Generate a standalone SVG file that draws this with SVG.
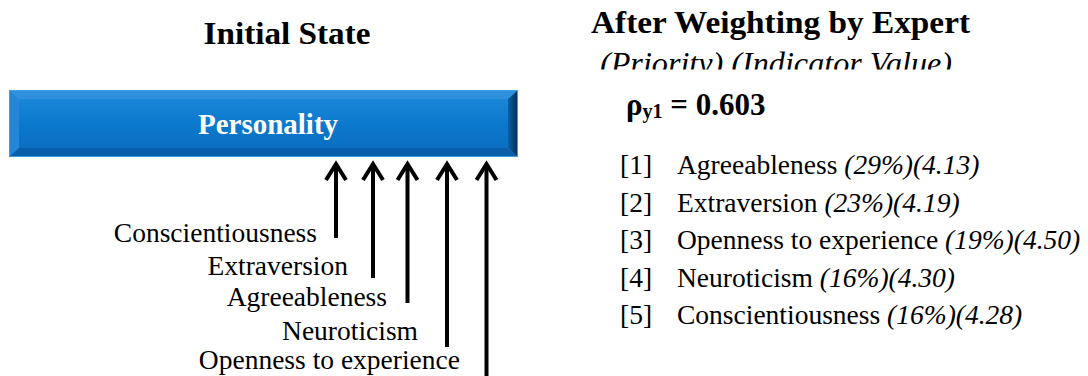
<svg xmlns="http://www.w3.org/2000/svg" width="1088" height="376" viewBox="0 0 1088 376">
  <style>
    .head { font-family: "Liberation Serif", "Times New Roman", serif; font-weight: bold; font-size: 32px; fill: #000; }
    .sub { font-family: "Liberation Serif", "Times New Roman", serif; font-style: italic; font-size: 31px; fill: #000; }
    .lbl { font-family: "Liberation Serif", "Times New Roman", serif; font-size: 27.5px; fill: #000; }
    .it { font-style: italic; }
    .rho { font-family: "Liberation Serif", "Times New Roman", serif; font-weight: bold; font-size: 31px; fill: #000; }
    .box-text { font-family: "Liberation Serif", "Times New Roman", serif; font-weight: bold; font-size: 29px; fill: #ffffff; }
    .shaft { stroke: #000; stroke-width: 4; fill: none; }
    .head-arrow { stroke: #000; stroke-width: 4; fill: none; stroke-linejoin: miter; stroke-linecap: butt; }
  </style>
  <defs>
    <linearGradient id="faceGrad" x1="0" y1="0" x2="0" y2="1">
      <stop offset="0" stop-color="#1a86d8"/>
      <stop offset="0.5" stop-color="#0b79cd"/>
      <stop offset="1" stop-color="#0a6fc2"/>
    </linearGradient>
    <linearGradient id="rightGrad" x1="0" y1="0" x2="1" y2="0">
      <stop offset="0" stop-color="#0a5fa8"/>
      <stop offset="1" stop-color="#05305e"/>
    </linearGradient>
    <clipPath id="subClip">
      <rect x="560" y="40" width="420" height="29.5"/>
    </clipPath>
  </defs>

  <!-- column headings -->
  <text class="head" x="287" y="44" text-anchor="middle" textLength="167" lengthAdjust="spacingAndGlyphs">Initial State</text>
  <text class="head" x="780.5" y="33" text-anchor="middle" textLength="379" lengthAdjust="spacingAndGlyphs">After Weighting by Expert</text>
  <g clip-path="url(#subClip)">
    <text class="sub" x="776" y="74" text-anchor="middle" textLength="352" lengthAdjust="spacingAndGlyphs">(Priority) (Indicator Value)</text>
  </g>

  <!-- bevelled construct bar -->
  <g id="personality">
    <rect x="9" y="90" width="509" height="67" fill="#3f9be2"/>
    <polygon points="10,91 517,91 508,99 19,99" fill="#2f91dd"/>
    <polygon points="10,91 19,99 19,148 10,156" fill="#2386d6"/>
    <polygon points="10,156 19,148 508,148 517,156" fill="#0a5ea9"/>
    <polygon points="517,91 508,99 508,148 517,156" fill="url(#rightGrad)"/>
    <rect x="19" y="99" width="489" height="49" fill="url(#faceGrad)"/>
    <text class="box-text" x="268" y="134" text-anchor="middle">Personality</text>
  </g>

  <!-- indicator labels -->
  <g id="indicators">
    <text class="lbl" x="317" y="242" text-anchor="end">Conscientiousness</text>
    <text class="lbl" x="348" y="275" text-anchor="end">Extraversion</text>
    <text class="lbl" x="387" y="306" text-anchor="end">Agreeableness</text>
    <text class="lbl" x="418" y="340" text-anchor="end">Neuroticism</text>
    <text class="lbl" x="460" y="369" text-anchor="end">Openness to experience</text>
  </g>

  <!-- arrows from indicators up to the bar -->
  <g id="connectors">
    <line class="shaft" x1="336" y1="165" x2="336" y2="238"/>
    <path class="head-arrow" d="M326 180 L336 164 L346 180"/>
    <line class="shaft" x1="373" y1="165" x2="373" y2="278"/>
    <path class="head-arrow" d="M363 180 L373 164 L383 180"/>
    <line class="shaft" x1="407.5" y1="165" x2="407.5" y2="303"/>
    <path class="head-arrow" d="M397.5 180 L407.5 164 L417.5 180"/>
    <line class="shaft" x1="447" y1="165" x2="447" y2="347"/>
    <path class="head-arrow" d="M437 180 L447 164 L457 180"/>
    <line class="shaft" x1="486.5" y1="165" x2="486.5" y2="380"/>
    <path class="head-arrow" d="M476.5 180 L486.5 164 L496.5 180"/>
  </g>

  <!-- weighted result -->
  <g id="result">
    <text class="rho" x="626" y="115">ρ<tspan font-size="20" dy="3">y1</tspan><tspan dy="-3"> = 0.603</tspan></text>
    <text class="lbl" x="620" y="174">[1]</text>
    <text class="lbl" x="677" y="174">Agreeableness <tspan class="it">(29%)(4.13)</tspan></text>
    <text class="lbl" x="620" y="211.5">[2]</text>
    <text class="lbl" x="677" y="211.5">Extraversion <tspan class="it">(23%)(4.19)</tspan></text>
    <text class="lbl" x="620" y="249">[3]</text>
    <text class="lbl" x="677" y="249">Openness to experience <tspan class="it">(19%)(4.50)</tspan></text>
    <text class="lbl" x="620" y="286.5">[4]</text>
    <text class="lbl" x="677" y="286.5">Neuroticism <tspan class="it">(16%)(4.30)</tspan></text>
    <text class="lbl" x="620" y="324">[5]</text>
    <text class="lbl" x="677" y="324">Conscientiousness <tspan class="it">(16%)(4.28)</tspan></text>
  </g>
</svg>
